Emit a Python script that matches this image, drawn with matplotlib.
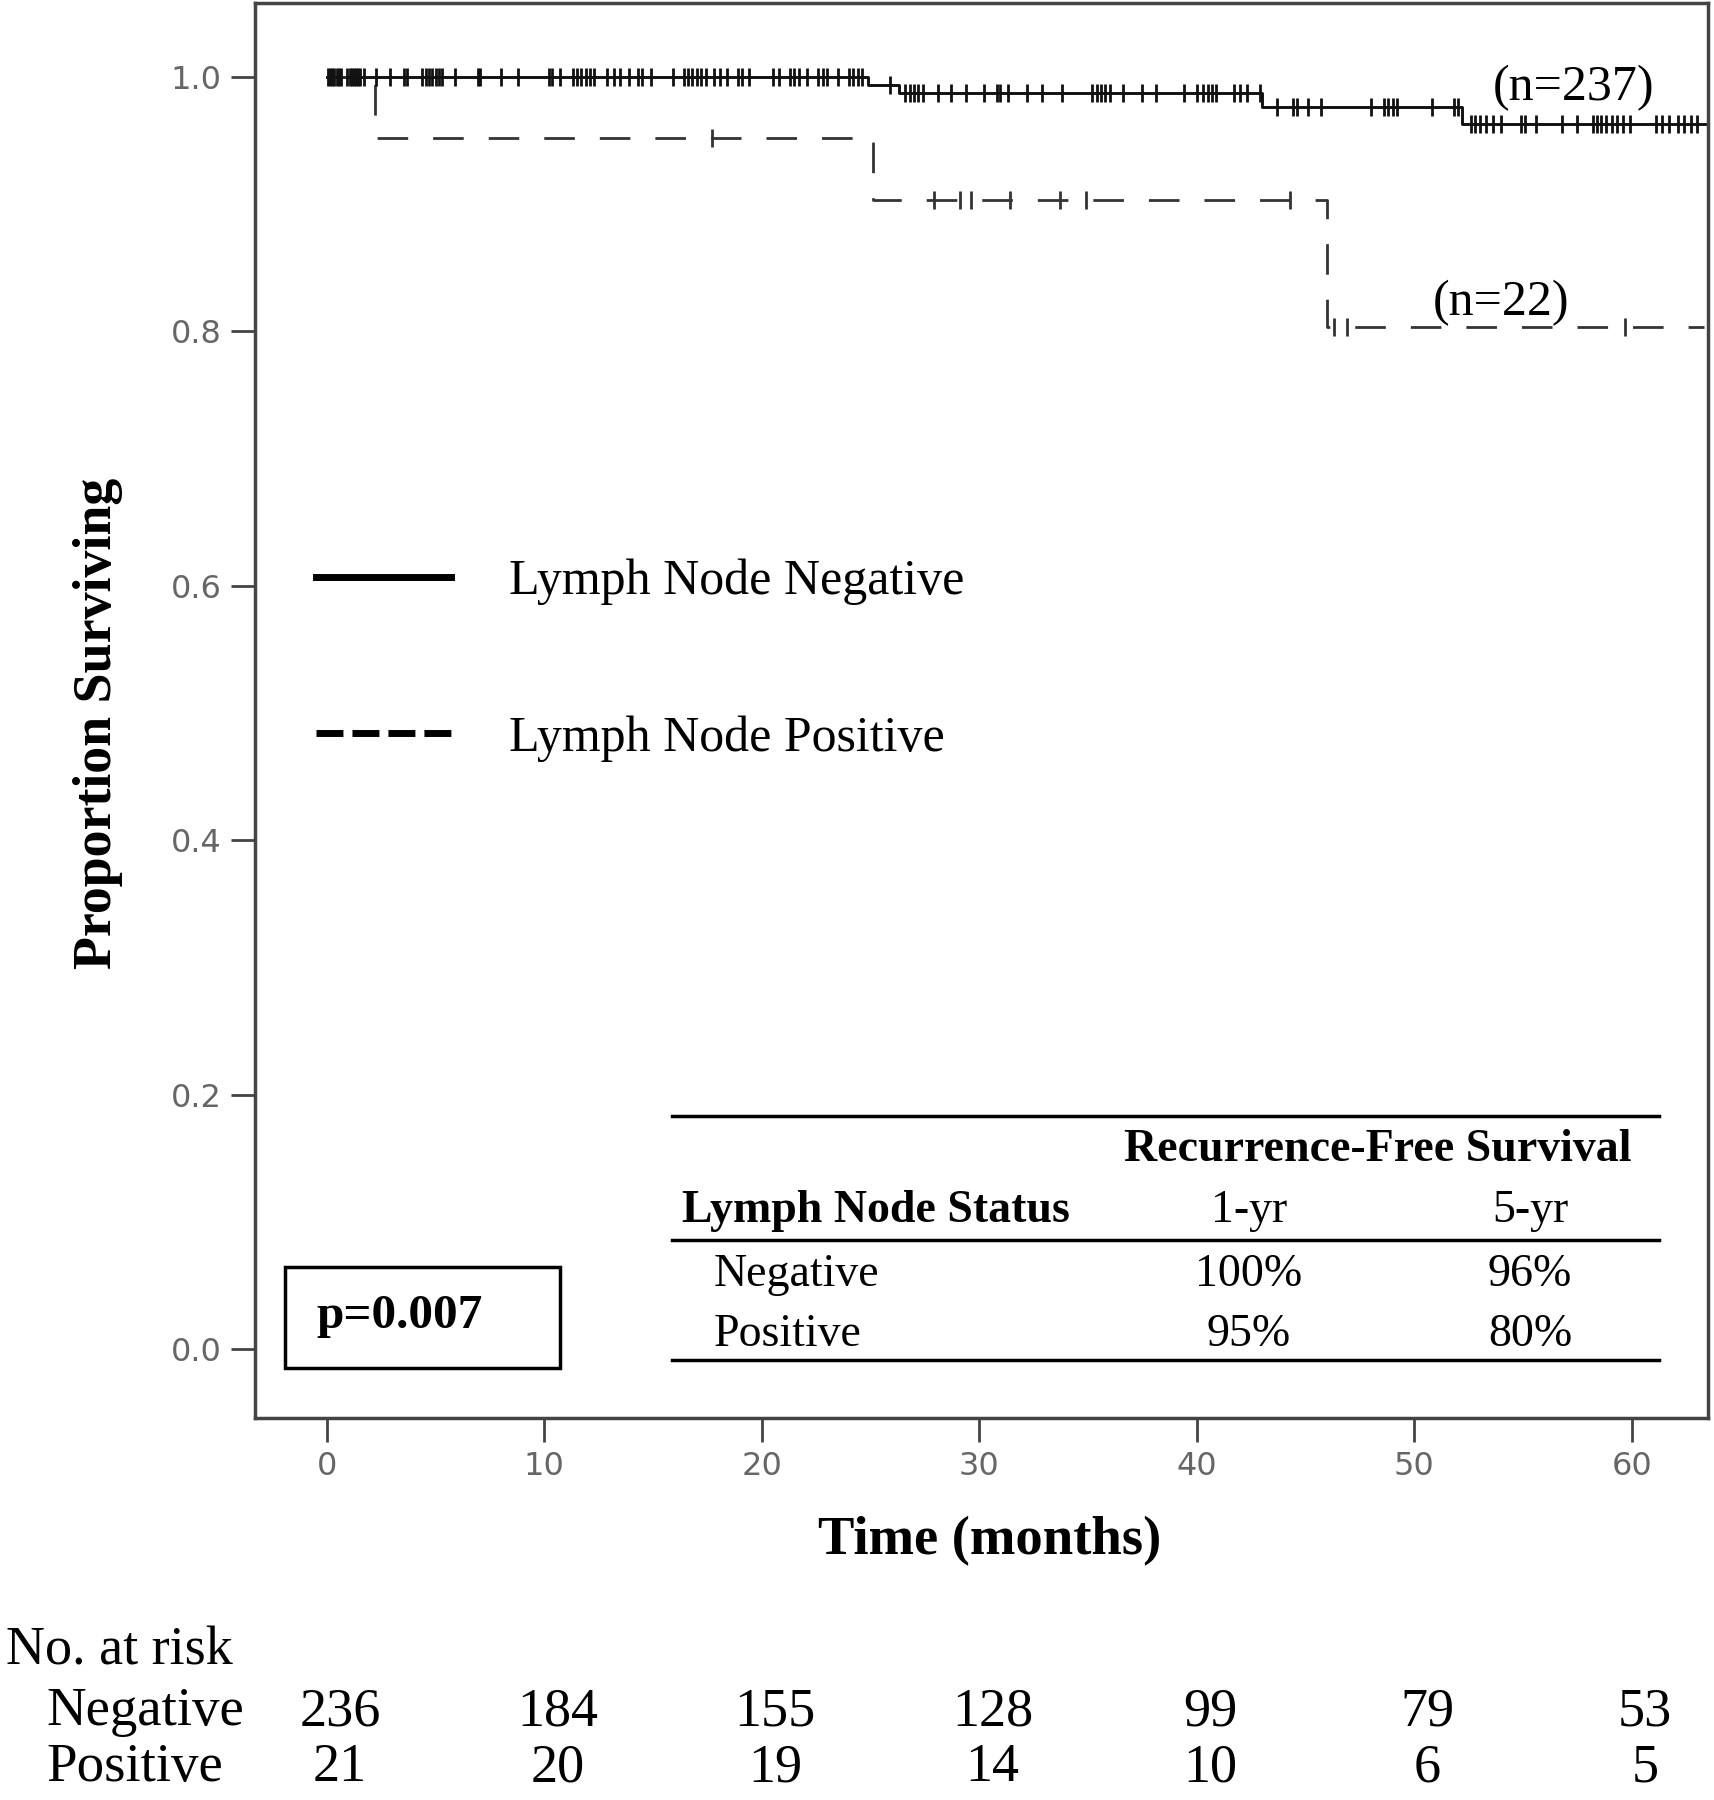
import numpy as np
import matplotlib
matplotlib.use("Agg")
import matplotlib.pyplot as plt
from matplotlib.lines import Line2D
from matplotlib.patches import Rectangle
from matplotlib import transforms

plt.rcParams['lines.scale_dashes'] = False
SERIF = ['Liberation Serif', 'DejaVu Serif']

# Kaplan-Meier steps (time in months, survival proportion)
neg_times = [0, 24.9, 26.3, 43.0, 52.2]
neg_surv = [1.0, 0.9935, 0.987, 0.976, 0.963]
neg_end = 63.4
pos_times = [0, 2.2, 25.1, 46.0]
pos_surv = [1.0, 0.952, 0.903, 0.803]
pos_end = 63.3

# censored observations
neg_censor = [0.05, 0.15, 0.25, 0.35, 0.45, 0.55, 0.65, 0.95, 1.05, 1.15, 1.25, 1.35, 1.45,
              1.55, 1.7, 2.25, 2.9, 3.55, 3.7, 4.4, 4.55, 4.7, 4.85, 5.0, 5.15, 5.3, 5.9,
              6.95, 7.05, 8.0, 8.8, 10.2, 10.35, 10.7, 11.3, 11.5, 11.7, 11.9, 12.1, 12.3,
              12.9, 13.2, 13.5, 13.9, 14.3, 14.5, 14.9, 15.9, 16.4, 16.6, 16.8, 17.0, 17.2,
              17.45, 17.8, 18.1, 18.4, 18.9, 19.1, 19.4, 20.5, 20.8, 21.3, 21.5, 21.7,
              22.1, 22.6, 22.8, 23.0, 23.5, 24.0, 24.2, 24.4, 24.6, 25.9, 26.6, 26.8, 27.0,
              27.2, 27.4, 28.1, 28.7, 29.4, 30.2, 30.8, 30.95, 31.3, 32.2, 32.9, 33.8, 35.2,
              35.4, 35.6, 35.8, 36.0, 36.6, 37.5, 38.1, 39.4, 40.0, 40.3, 40.5, 40.7, 40.9,
              41.7, 42.0, 42.3, 42.9, 43.7, 44.4, 44.6, 45.1, 45.7, 48.0, 48.6, 48.8, 49.0,
              49.2, 50.8, 51.8, 52.0, 52.6, 52.8, 53.0, 53.3, 53.6, 54.0, 54.9, 55.1, 55.6,
              56.8, 57.5, 58.2, 58.4, 58.6, 58.8, 59.1, 59.3, 59.6, 59.9, 61.1, 61.4, 61.7,
              62.1, 62.4, 62.7, 63.0]
pos_censor = [17.7, 27.9, 29.1, 29.6, 31.4, 33.7, 34.9, 44.3, 46.3, 46.9, 59.7]

risk_times = [0, 10, 20, 30, 40, 50, 60]
risk_neg = [236, 184, 155, 128, 99, 79, 53]
risk_pos = [21, 20, 19, 14, 10, 6, 5]

table_rows = ['Negative', 'Positive']
table_1yr = ['100%', '95%']
table_5yr = ['96%', '80%']


def step_xy(times, surv, end):
    x = list(times) + [end]
    y = list(surv) + [surv[-1]]
    return x, y


def surv_at(times, surv, t):
    i = np.searchsorted(times, t, side='right') - 1
    return np.array(surv)[i]


fig = plt.figure(figsize=(17.15, 18), dpi=100)
L, R, T, B = 255, 1708, 3, 1418
ax = fig.add_axes([L / 1715, 1 - B / 1800, (R - L) / 1715, (B - T) / 1800])

xn, yn = step_xy(neg_times, neg_surv, neg_end)
ax.step(xn, yn, where='post', color='#111111', lw=2.1)
xp, yp = step_xy(pos_times, pos_surv, pos_end)
ax.step(xp, yp, where='post', color='#333333', lw=2.0, dashes=(22, 18))

ax.plot(neg_censor, surv_at(neg_times, neg_surv, neg_censor), ls='none', marker='|',
        ms=13, mew=2.0, color='#111111')
ax.plot(pos_censor, surv_at(pos_times, pos_surv, pos_censor), ls='none', marker='|',
        ms=13, mew=2.0, color='#333333')

ax.set_xlim(-3.3, 63.5)
ax.set_ylim(-0.054, 1.058)
ax.set_xticks(risk_times)
ax.set_yticks([0.0, 0.2, 0.4, 0.6, 0.8, 1.0])
ax.yaxis.set_major_formatter(matplotlib.ticker.FormatStrFormatter('%.1f'))
ax.tick_params(length=17, width=2, color='#444444', labelsize=23, labelcolor='#666666', pad=7)
for s in ax.spines.values():
    s.set_linewidth(2.5)
    s.set_color('#444444')

fig.text(98 / 1715, 1 - 723 / 1800, 'Proportion Surviving', rotation=90, ha='center',
         va='center', fontsize=38.8, fontweight='bold', family=SERIF)
fig.text(990 / 1715, 1 - 1541 / 1800, 'Time (months)', ha='center', va='center',
         fontsize=39.3, fontweight='bold', family=SERIF)

# legend
handles = [Line2D([], [], color='black', lw=5),
           Line2D([], [], color='black', lw=5, dashes=(19.4, 6.5))]
ax.legend(handles, ['Lymph Node Negative', 'Lymph Node Positive'], loc='center left',
          bbox_to_anchor=(0.042, 0.5355), frameon=False, borderpad=0, borderaxespad=0,
          handlelength=2.7, handletextpad=1.15, labelspacing=2.2,
          prop={'family': SERIF, 'size': 36})

# n labels
ax.text(57.3, 0.9915, '(n=237)', ha='center', va='center', fontsize=36, family=SERIF)
ax.text(54.0, 0.822, '(n=22)', ha='center', va='center', fontsize=36, family=SERIF)


def axx(px):
    return (px - L) / (R - L)


def axy(py):
    return (B - py) / (B - T)


# survival table
for py in [1116, 1240, 1360]:
    ax.plot([axx(672), axx(1659)], [axy(py), axy(py)], color='black', lw=2.5,
            transform=ax.transAxes, clip_on=False)
tk = dict(transform=ax.transAxes, fontsize=33, family=SERIF, va='center')
ax.text(axx(1378), axy(1150), 'Recurrence-Free Survival', ha='center', fontweight='bold', **tk)
ax.text(axx(682), axy(1211), 'Lymph Node Status', ha='left', fontweight='bold', **tk)
ax.text(axx(1249), axy(1211), '1-yr', ha='center', **tk)
ax.text(axx(1530), axy(1211), '5-yr', ha='center', **tk)
for i, py in enumerate([1275, 1335]):
    ax.text(axx(714), axy(py), table_rows[i], ha='left', **tk)
    ax.text(axx(1249), axy(py), table_1yr[i], ha='center', **tk)
    ax.text(axx(1530), axy(py), table_5yr[i], ha='center', **tk)

# p-value box
ax.add_patch(Rectangle((axx(285), axy(1368)), axx(560) - axx(285), axy(1267) - axy(1368),
                       transform=ax.transAxes, fill=False, lw=2.5, ec='black'))
ax.text(axx(316), axy(1316), 'p=0.007', transform=ax.transAxes, ha='left', va='center',
        fontsize=35.5, fontweight='bold', family=SERIF)

# number at risk
fig.text(6 / 1715, 1 - 1651 / 1800, 'No. at risk', ha='left', va='center', fontsize=39,
         family=SERIF)
fig.text(46 / 1715, 1 - 1712 / 1800, 'Negative', ha='left', va='center', fontsize=39.5,
         family=SERIF)
fig.text(46 / 1715, 1 - 1768 / 1800, 'Positive', ha='left', va='center', fontsize=39.5,
         family=SERIF)
tr = transforms.blended_transform_factory(ax.transData, fig.transFigure)
for t, a, b in zip(risk_times, risk_neg, risk_pos):
    ax.text(t + 0.6, 1 - 1712 / 1800, str(a), transform=tr, ha='center', va='center',
            fontsize=39, family=SERIF, clip_on=False)
    ax.text(t + 0.6, 1 - 1768 / 1800, str(b), transform=tr, ha='center', va='center',
            fontsize=39, family=SERIF, clip_on=False)

fig.savefig('out.png', dpi=100)
